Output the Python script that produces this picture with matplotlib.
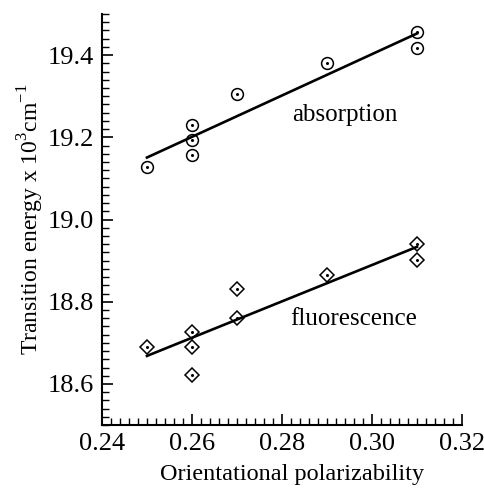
import numpy as np
import matplotlib
matplotlib.use('Agg')
import matplotlib.pyplot as plt
from matplotlib.ticker import MultipleLocator

plt.rcParams['font.family'] = ['Liberation Serif', 'DejaVu Serif']
plt.rcParams['mathtext.fontset'] = 'custom'
plt.rcParams['mathtext.rm'] = 'Liberation Serif'

# absorption data (circles)
abs_x = [0.25, 0.26, 0.26, 0.26, 0.27, 0.29, 0.31, 0.31]
abs_y = [19.127, 19.229, 19.193, 19.156, 19.305, 19.380, 19.456, 19.417]

# fluorescence data (diamonds)
flu_x = [0.25, 0.26, 0.26, 0.26, 0.27, 0.27, 0.29, 0.31, 0.31]
flu_y = [18.690, 18.727, 18.690, 18.622, 18.832, 18.761, 18.866, 18.941, 18.902]

fig = plt.figure(figsize=(4.84, 4.88), dpi=100)
ax = fig.add_axes([0.2107, 0.129, 0.7438, 0.8423])

# linear fits
for xs, ys in [(abs_x, abs_y), (flu_x, flu_y)]:
    k, b = np.polyfit(xs, ys, 1)
    xx = np.array([min(xs), max(xs)])
    ax.plot(xx, k*xx + b, color='black', lw=1.9)

ax.plot(abs_x, abs_y, 'o', ms=8.5, mfc='none', mec='black', mew=1.1)
ax.plot(abs_x, abs_y, 'o', ms=1.2, color='black')
ax.plot(flu_x, flu_y, 'D', ms=7.5, mfc='none', mec='black', mew=1.1)
ax.plot(flu_x, flu_y, 'o', ms=1.2, color='black')

ax.text(0.2822, 19.254, 'absorption', fontsize=18, va='center')
ax.text(0.2818, 18.759, 'fluorescence', fontsize=18, va='center')

ax.set_xlim(0.24, 0.32)
ax.set_ylim(18.5, 19.5)
ax.xaxis.set_minor_locator(MultipleLocator(0.002))
ax.yaxis.set_minor_locator(MultipleLocator(0.02))
ax.set_xticks([0.24, 0.26, 0.28, 0.30, 0.32])
ax.set_xticklabels(['0.24', '0.26', '0.28', '0.30', '0.32'])
ax.set_yticks([18.6, 18.8, 19.0, 19.2, 19.4])
ax.set_yticklabels(['18.6', '18.8', '19.0', '19.2', '19.4'])

ax.spines['top'].set_visible(False)
ax.spines['right'].set_visible(False)
ax.spines['left'].set_linewidth(1.5)
ax.spines['bottom'].set_linewidth(1.5)
ax.tick_params(which='major', direction='in', length=8, width=1.2, labelsize=19, pad=6)
ax.tick_params(which='minor', direction='in', length=5, width=1.0)

ax.set_xlabel('Orientational polarizability', fontsize=17.5, labelpad=6)
ax.xaxis.label.set_x(0.528)
ax.set_ylabel(r'Transition energy x 10$^3$cm$^{-1}$', fontsize=17, labelpad=1)

fig.savefig('out.png', dpi=100)
